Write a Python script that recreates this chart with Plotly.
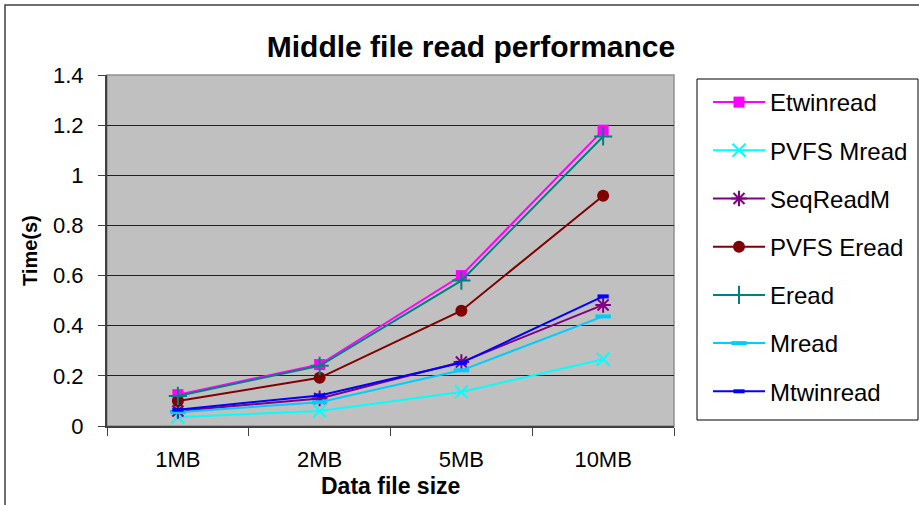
import plotly.graph_objects as go

categories = ["1MB", "2MB", "5MB", "10MB"]
series_names = ["Etwinread", "PVFS Mread", "SeqReadM", "PVFS Eread", "Eread", "Mread", "Mtwinread"]
etwinread = [0.125, 0.245, 0.60, 1.18]
pvfs_mread = [0.035, 0.06, 0.136, 0.266]
seqreadm = [0.06, 0.11, 0.255, 0.483]
pvfs_eread = [0.10, 0.192, 0.46, 0.918]
eread = [0.12, 0.24, 0.58, 1.155]
mread = [0.055, 0.095, 0.222, 0.437]
mtwinread = [0.065, 0.122, 0.252, 0.517]
y_ticks = [0, 0.2, 0.4, 0.6, 0.8, 1.0, 1.2, 1.4]

values = [etwinread, pvfs_mread, seqreadm, pvfs_eread, eread, mread, mtwinread]
colors = ["#FF00FF", "#00FFFF", "#800080", "#800000", "#008080", "#00CCFF", "#0000FF"]
symbols = ["square", "x-thin-open", "asterisk-open", "circle", "cross-thin-open", "line-ew-open", "line-ew-open"]
msizes = [11, 13, 13, 12, 13, 11, 8]
mlw = [0, 2, 2, 0, 2, 4, 4]

W, H = 919, 505
L, R, T, B = 107, 674, 75, 426
pw, ph = R - L, B - T

def px_x(x):
    return (x - L) / pw

def px_y(y):
    return (B - y) / ph

FONT = "Arial, Liberation Sans, sans-serif"

fig = go.Figure()
for i, name in enumerate(series_names):
    fig.add_trace(go.Scatter(
        x=categories, y=values[i], name=name, mode="lines+markers",
        legendgroup=name,
        line=dict(color=colors[i], width=2),
        marker=dict(symbol=symbols[i], size=msizes[i], color=colors[i],
                    line=dict(color=colors[i], width=mlw[i])),
    ))

shapes = [
    # outer chart border
    dict(type="rect", xref="paper", yref="paper",
         x0=px_x(5), x1=px_x(W + 10), y0=px_y(H + 10), y1=px_y(5),
         line=dict(color="#404040", width=1.5), fillcolor="rgba(0,0,0,0)", layer="below"),
    # plot area border
    dict(type="rect", xref="paper", yref="paper", x0=0, x1=1, y0=0, y1=1,
         line=dict(color="#909090", width=1.5), fillcolor="rgba(0,0,0,0)", layer="below"),
    # legend box
    dict(type="rect", xref="paper", yref="paper",
         x0=px_x(697), x1=px_x(918), y0=px_y(420), y1=px_y(79),
         line=dict(color="#000000", width=1), fillcolor="white", layer="below"),
]

annotations = [
    dict(text="<b>Time(s)</b>", xref="paper", yref="paper", x=px_x(30), y=px_y(251),
         textangle=-90, showarrow=False, xanchor="center", yanchor="middle",
         font=dict(family=FONT, size=20, color="black")),
    dict(text="<b>Data file size</b>", xref="paper", yref="paper", x=px_x(390), y=px_y(486),
         showarrow=False, xanchor="center", yanchor="middle",
         font=dict(family=FONT, size=23, color="black")),
]

fig.update_layout(
    width=W, height=H,
    margin=dict(l=L, r=W - R, t=T, b=H - B, autoexpand=False),
    paper_bgcolor="white", plot_bgcolor="#C0C0C0",
    title=dict(text="<b>Middle file read performance</b>", xref="paper", x=px_x(471), xanchor="center",
               yref="container", y=1 - 46 / H, yanchor="middle",
               font=dict(family=FONT, size=30, color="black")),
    showlegend=True,
    legend=dict(x=px_x(708), y=px_y(80), xanchor="left", yanchor="top",
                bgcolor="rgba(0,0,0,0)", borderwidth=0, maxheight=480,
                font=dict(family=FONT, size=24, color="black"),
                traceorder="grouped", tracegroupgap=14, itemwidth=52),
    shapes=shapes, annotations=annotations,
    xaxis=dict(type="category", range=[-0.5, 3.5], tickson="boundaries", ticks="outside",
               ticklen=8, tickcolor="#404040", showgrid=False, showline=True,
               linecolor="#404040", linewidth=2, ticklabelstandoff=13,
               tickfont=dict(family=FONT, size=22, color="black"), zeroline=False),
    yaxis=dict(range=[0, 1.4], tickvals=y_ticks, ticks="outside", ticklen=7,
               tickcolor="#404040", showgrid=True, gridcolor="#202020", gridwidth=1,
               showline=True, linecolor="#404040", linewidth=2, zeroline=False,
               ticklabelstandoff=10,
               tickfont=dict(family=FONT, size=22, color="black")),
)

fig.write_html("out.html")
